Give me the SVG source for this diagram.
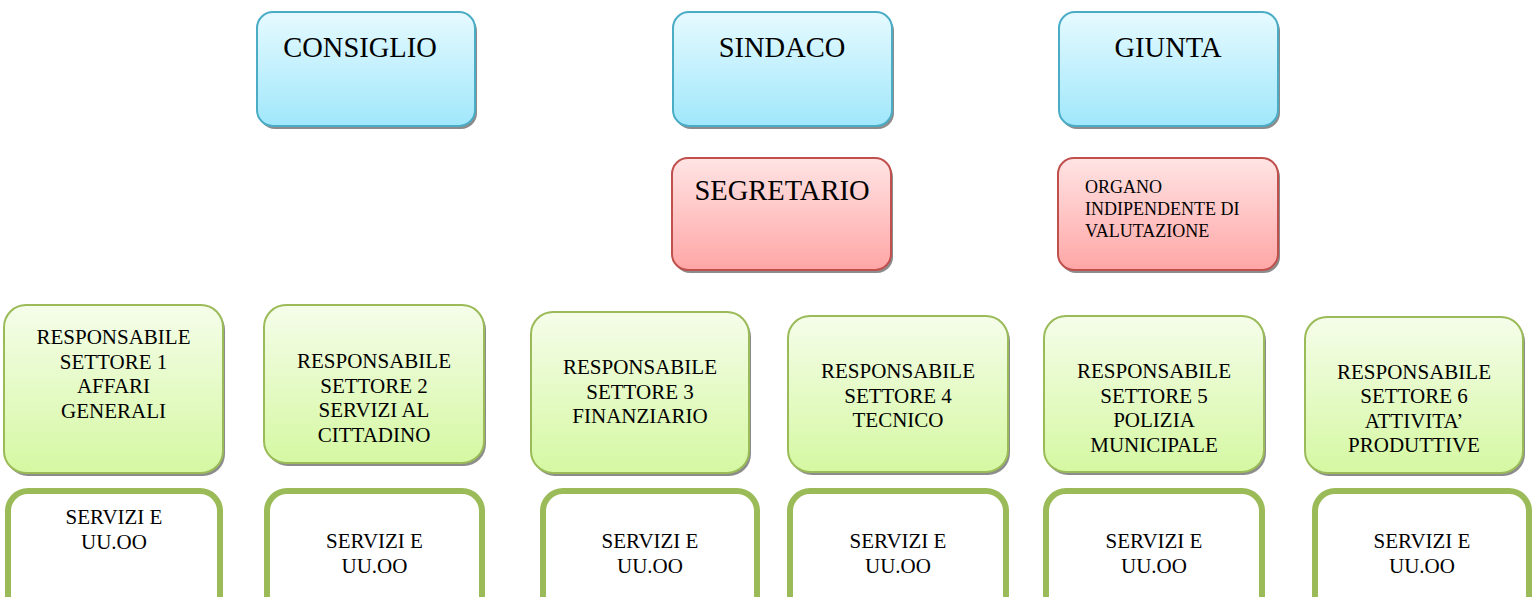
<svg xmlns="http://www.w3.org/2000/svg" width="1538" height="597" viewBox="0 0 1538 597">
<defs>
<linearGradient id="gBlue" x1="0" y1="0" x2="0" y2="1"><stop offset="0" stop-color="#E6FAFF"/><stop offset="1" stop-color="#A0E7FB"/></linearGradient>
<linearGradient id="gRed" x1="0" y1="0" x2="0" y2="1"><stop offset="0" stop-color="#FFE4E4"/><stop offset="1" stop-color="#FFA6A6"/></linearGradient>
<linearGradient id="gGreen" x1="0" y1="0" x2="0" y2="1"><stop offset="0" stop-color="#F5FDEA"/><stop offset="1" stop-color="#D5F8A2"/></linearGradient>
</defs>
<style>
text{font-family:"Liberation Serif","Times New Roman",serif;fill:#000;text-anchor:middle}
.big{font-size:28.5px}
.med{font-size:21px}
.sml{font-size:18px;text-anchor:start}
.sh{fill:#8c8c8c}
.blue{fill:url(#gBlue);stroke:#4BACC6;stroke-width:2}
.red{fill:url(#gRed);stroke:#C0504D;stroke-width:2}
.green{fill:url(#gGreen);stroke:#9BBB59;stroke-width:2}
.serv{fill:#fff;stroke:#9BBB59;stroke-width:6}
</style>
<rect width="1538" height="597" fill="#fff"/>
<g id="consiglio">
<rect class="sh" x="259" y="15" width="218" height="114" rx="16"/>
<rect class="blue" x="257" y="12" width="218" height="114" rx="16"/>
<text class="big" x="360" y="57">CONSIGLIO</text>
</g>
<g id="sindaco">
<rect class="sh" x="675" y="15" width="219" height="114" rx="16"/>
<rect class="blue" x="673" y="12" width="219" height="114" rx="16"/>
<text class="big" x="782" y="57">SINDACO</text>
</g>
<g id="giunta">
<rect class="sh" x="1061" y="15" width="219" height="114" rx="16"/>
<rect class="blue" x="1059" y="12" width="219" height="114" rx="16"/>
<text class="big" x="1168" y="57">GIUNTA</text>
</g>
<g id="segretario">
<rect class="sh" x="674" y="161" width="219" height="112" rx="16"/>
<rect class="red" x="672" y="158" width="219" height="112" rx="16"/>
<text class="big" x="782" y="200">SEGRETARIO</text>
</g>
<g id="oiv">
<rect class="sh" x="1060" y="161" width="220" height="112" rx="16"/>
<rect class="red" x="1058" y="158" width="220" height="112" rx="16"/>
<text class="sml" x="1085" y="193">ORGANO</text>
<text class="sml" x="1085" y="215">INDIPENDENTE DI</text>
<text class="sml" x="1085" y="237">VALUTAZIONE</text>
</g>
<g id="settore1">
<rect class="sh" x="6" y="308" width="219" height="168" rx="22"/>
<rect class="green" x="4" y="305" width="219" height="168" rx="22"/>
<text class="med" x="113.5" y="344">RESPONSABILE</text>
<text class="med" x="113.5" y="369">SETTORE 1</text>
<text class="med" x="113.5" y="393">AFFARI</text>
<text class="med" x="113.5" y="418">GENERALI</text>
</g>
<g id="settore2">
<rect class="sh" x="266" y="308" width="220" height="158" rx="22"/>
<rect class="green" x="264" y="305" width="220" height="158" rx="22"/>
<text class="med" x="374" y="368">RESPONSABILE</text>
<text class="med" x="374" y="393">SETTORE 2</text>
<text class="med" x="374" y="417">SERVIZI AL</text>
<text class="med" x="374" y="442">CITTADINO</text>
</g>
<g id="settore3">
<rect class="sh" x="533" y="315" width="218" height="161" rx="22"/>
<rect class="green" x="531" y="312" width="218" height="161" rx="22"/>
<text class="med" x="640" y="374">RESPONSABILE</text>
<text class="med" x="640" y="399">SETTORE 3</text>
<text class="med" x="640" y="423">FINANZIARIO</text>
</g>
<g id="settore4">
<rect class="sh" x="790" y="319" width="220" height="156" rx="22"/>
<rect class="green" x="788" y="316" width="220" height="156" rx="22"/>
<text class="med" x="898" y="378">RESPONSABILE</text>
<text class="med" x="898" y="403">SETTORE 4</text>
<text class="med" x="898" y="427">TECNICO</text>
</g>
<g id="settore5">
<rect class="sh" x="1046" y="319" width="220" height="156" rx="22"/>
<rect class="green" x="1044" y="316" width="220" height="156" rx="22"/>
<text class="med" x="1154" y="378">RESPONSABILE</text>
<text class="med" x="1154" y="403">SETTORE 5</text>
<text class="med" x="1154" y="427">POLIZIA</text>
<text class="med" x="1154" y="452">MUNICIPALE</text>
</g>
<g id="settore6">
<rect class="sh" x="1307" y="320" width="218" height="156" rx="22"/>
<rect class="green" x="1305" y="317" width="218" height="156" rx="22"/>
<text class="med" x="1414" y="379">RESPONSABILE</text>
<text class="med" x="1414" y="403">SETTORE 6</text>
<text class="med" x="1414" y="428">ATTIVITA’</text>
<text class="med" x="1414" y="452">PRODUTTIVE</text>
</g>
<g id="servizi1">
<rect class="serv" x="8" y="491" width="212" height="140" rx="20"/>
<text class="med" x="114" y="524">SERVIZI E</text>
<text class="med" x="114" y="549">UU.OO</text>
</g>
<g id="servizi2">
<rect class="serv" x="267" y="491" width="215" height="140" rx="20"/>
<text class="med" x="374.5" y="548">SERVIZI E</text>
<text class="med" x="374.5" y="573">UU.OO</text>
</g>
<g id="servizi3">
<rect class="serv" x="543" y="491" width="214" height="140" rx="20"/>
<text class="med" x="650" y="548">SERVIZI E</text>
<text class="med" x="650" y="573">UU.OO</text>
</g>
<g id="servizi4">
<rect class="serv" x="790" y="491" width="216" height="140" rx="20"/>
<text class="med" x="898" y="548">SERVIZI E</text>
<text class="med" x="898" y="573">UU.OO</text>
</g>
<g id="servizi5">
<rect class="serv" x="1046" y="491" width="216" height="140" rx="20"/>
<text class="med" x="1154" y="548">SERVIZI E</text>
<text class="med" x="1154" y="573">UU.OO</text>
</g>
<g id="servizi6">
<rect class="serv" x="1315" y="491" width="214" height="140" rx="20"/>
<text class="med" x="1422" y="548">SERVIZI E</text>
<text class="med" x="1422" y="573">UU.OO</text>
</g>
<g id="connectors"/>
</svg>
